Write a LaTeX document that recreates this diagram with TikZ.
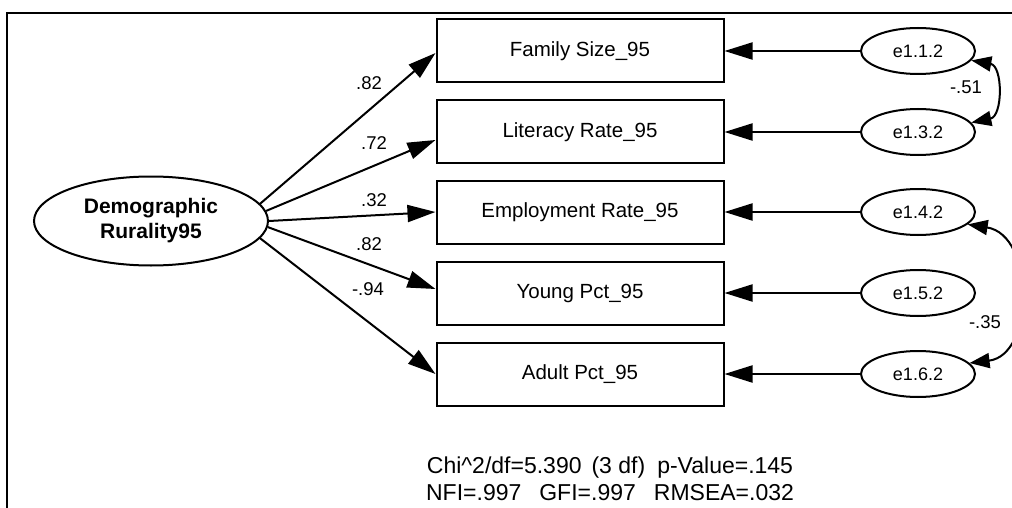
\documentclass[tikz,border=0pt]{standalone}
\usepackage{fontspec}
\setmainfont{Liberation Sans}
\usetikzlibrary{arrows.meta,shapes.geometric}
\begin{document}
\begin{tikzpicture}[x=1pt,y=-1pt,line width=2pt,
	obs/.style={draw,rectangle,minimum width=287pt,minimum height=63pt,inner sep=0pt,font=\fontsize{20.5}{24}\selectfont},
	lat/.style={draw,ellipse,minimum width=234pt,minimum height=89pt,inner sep=0pt,align=center,font=\bfseries\fontsize{21}{25}\selectfont},
	err/.style={draw,ellipse,minimum width=114pt,minimum height=46pt,inner sep=0pt,font=\fontsize{18}{21}\selectfont},
	coef/.style={font=\fontsize{18.5}{21}\selectfont},
	fitline/.style={anchor=base,font=\fontsize{23}{27}\selectfont},
	arr/.style={-{Triangle[length=28pt,width=17pt]}},
	cov/.style={{Triangle[length=20pt,width=15pt]}-{Triangle[length=20pt,width=15pt]}}]
	\useasboundingbox (0,0) rectangle (1012,508);
	\clip (0,0) rectangle (1012,508);
	%frame
	\draw (7,508) -- (7,13) -- (1012,13);
	%latent
	\node[lat] (dem) at (151,221) {Demographic\\Rurality95};
	%indicators
	\foreach \nm/\yy/\txt in {fam/51/Family Size\_95,lit/132/Literacy Rate\_95,emp/212/Employment Rate\_95,yng/293/Young Pct\_95,adu/374/Adult Pct\_95}
	\node[obs] (\nm) at (580,\yy) {\txt};
	%errors
	\foreach \nm/\yy/\txt in {e11/51/e1.1.2,e13/132/e1.3.2,e14/212/e1.4.2,e15/293/e1.5.2,e16/374/e1.6.2}
	\node[err] (\nm) at (918,\yy) {\txt};
	%loadings
	\draw[arr] (dem.9) -- ([yshift=-2pt]fam.west);
	\draw[arr] (dem.5) -- ([yshift=-8pt]lit.west);
	\draw[arr] (dem.0) -- (emp.west);
	\draw[arr] (dem.-3) -- ([yshift=4pt]yng.west);
	\draw[arr] (dem.-9) -- (adu.west);
	\node[coef] (l1) at (369,83) {.82};
	\node[coef] (l2) at (374,143) {.72};
	\node[coef] (l3) at (374,200) {.32};
	\node[coef] (l4) at (369,244) {.82};
	\node[coef] (l5) at (368,289) {-.94};
	%error paths
	\foreach \a/\b in {e11/fam,e13/lit,e14/emp,e15/yng,e16/adu}
	\draw[arr] (\a) -- (\b);
	%covariances
	\draw[cov] (e11.-10) .. controls (1003,66) and (1003,116) .. (e13.10);
	\node[coef] (c1) at (966,87) {-.51};
	\draw[cov] (e14.-14) .. controls (1035,235) and (1035,355) .. (e16.12);
	\node[coef] (c2) at (985,322) {-.35};
	%fit
	\node[fitline] (fit1) at (610,473) {Chi\textasciicircum 2/df=5.390\hspace*{10pt}(3 df)\hspace*{12pt}p-Value=.145};
	\node[fitline] (fit2) at (610,500) {NFI=.997\hspace*{18pt}GFI=.997\hspace*{18pt}RMSEA=.032};
\end{tikzpicture}
\end{document}
